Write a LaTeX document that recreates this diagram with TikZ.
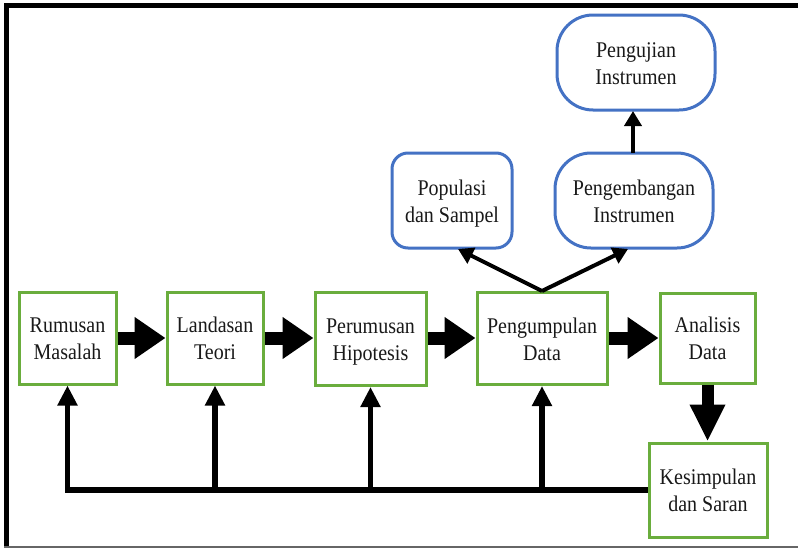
\documentclass[tikz,border=0pt]{standalone}
\usepackage{fontspec}
\setmainfont{Liberation Serif}
\usetikzlibrary{arrows.meta}
\definecolor{boxgreen}{HTML}{6AAD3D}
\definecolor{boxblue}{HTML}{4472C4}
\newcommand\twoline[2]{\scalebox{1}[1.12]{\begin{tabular}{@{}c@{}}#1\\#2\end{tabular}}}
\begin{document}
\begin{tikzpicture}[x=1pt,y=-1pt,
  every node/.style={font=\fontsize{20}{24}\selectfont, align=center, text=black!90,
    text height=36pt, text depth=19pt},
  gbox/.style={draw=boxgreen, line width=3pt, fill=white, inner sep=0pt},
  bbox/.style={draw=boxblue, line width=3pt, fill=white, inner sep=0pt},
  bigarrow/.style={line width=13pt, -{Triangle[width=40pt,length=31pt]}},
  fbline/.style={line width=5.5pt, line join=miter},
  fbarrow/.style={line width=5.5pt, -{Triangle[width=19pt,length=20pt]}},
  thinarrow/.style={line width=4pt, -{Triangle[width=17pt,length=15pt]}}
]
\useasboundingbox (0,0) rectangle (798,549);
% frame
\draw[line width=5pt] (6.5,3) -- (6.5,547);
\draw[line width=5pt] (4,5.5) -- (798,5.5);
\draw[line width=1.2pt, black!60] (4,547) -- (798,547);

% nodes
\node[gbox, minimum width=97pt, minimum height=92pt] (rm) at (67.5,338) {\twoline{Rumusan}{Masalah}};
\node[gbox, minimum width=96pt, minimum height=92pt] (lt) at (215,338) {\twoline{Landasan}{Teori}};
\node[gbox, minimum width=111pt, minimum height=93pt] (ph) at (370.5,339) {\twoline{Perumusan}{Hipotesis}};
\node[gbox, minimum width=130pt, minimum height=92pt] (pd) at (542,338.5) {\twoline{Pengumpulan}{Data}};
\node[gbox, minimum width=95pt, minimum height=90pt] (ad) at (707.5,338) {\twoline{Analisis}{Data}};
\node[gbox, minimum width=118pt, minimum height=94pt] (ks) at (708,490) {\twoline{Kesimpulan}{dan Saran}};
\node[bbox, rounded corners=16pt, minimum width=120pt, minimum height=95pt] (ps) at (452,200.5) {\twoline{Populasi}{dan Sampel}};
\node[bbox, rounded corners=36pt, minimum width=158pt, minimum height=95pt] (pi) at (634,200.5) {\twoline{Pengembangan}{Instrumen}};
\node[bbox, rounded corners=36pt, minimum width=158pt, minimum height=95pt] (pu) at (636,62.5) {\twoline{Pengujian}{Instrumen}};

% main flow
\draw[bigarrow] (rm.east) -- (lt.west);
\draw[bigarrow] (lt.east) -- (ph.west |- lt.east);
\draw[bigarrow] (ph.east |- lt.east) -- (pd.west |- lt.east);
\draw[bigarrow] (pd.east |- lt.east) -- (ad.west);
\draw[line width=12pt, -{Triangle[width=33pt,length=37pt]}] (ad.south) -- (ad.south |- ks.north);

% up branches
\coordinate (top) at (pd.north);
\draw[thinarrow] (top) -- (458,249);
\draw[thinarrow] (top) -- (628,249);
\draw[thinarrow] (633,153) -- (633,111);

% feedback
\draw[fbline, -{Triangle[width=19pt,length=20pt]}] (ks.west) -| (rm.south);
\draw[fbarrow] (lt.south |- ks.west) -- (lt.south);
\draw[fbarrow] (ph.south |- ks.west) -- (ph.south);
\draw[fbarrow] (pd.south |- ks.west) -- (pd.south);
\end{tikzpicture}
\end{document}
